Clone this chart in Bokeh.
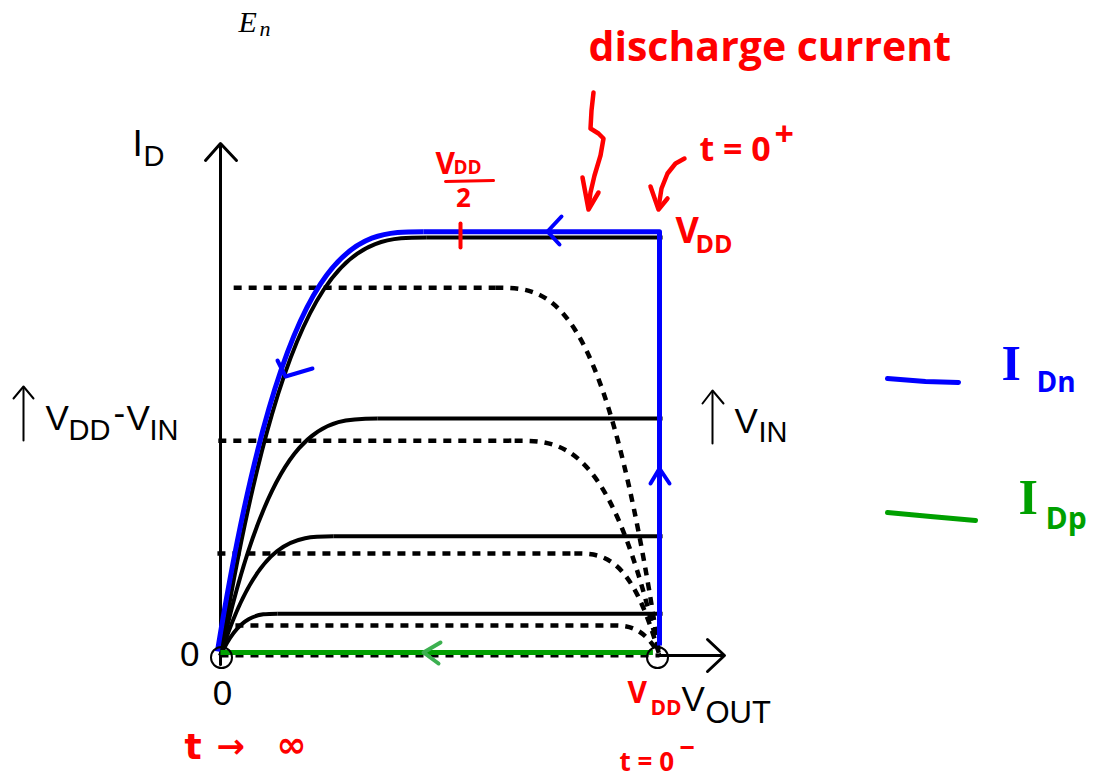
from bokeh.plotting import figure
from bokeh.models import Range1d
from bokeh.core.properties import value
from bokeh.embed import file_html
from bokeh.resources import INLINE

# ---------------------------------------------------------------------------
# Inverter discharge: NMOS (solid) and PMOS (dotted) output characteristics.
# Currents are normalised to the top NMOS curve, voltages to VDD.
# ---------------------------------------------------------------------------
VDD = 1.0
line_end = 1.007

idn_sat = [1.0, 0.567, 0.285, 0.100]         # NMOS saturation currents
idn_knee = [0.470, 0.358, 0.257, 0.130]      # NMOS V_DSAT

idp_sat = [0.880, 0.514, 0.244, 0.072]       # PMOS saturation currents
idp_knee = [0.374, 0.330, 0.194, 0.112]      # PMOS |V_DSAT| measured from VDD
idp_start = [0.030, -0.005, -0.007, 0.034]   # where each dotted curve begins

# discharge trajectory of I_Dn (t = 0- -> t = 0+ -> t -> inf)
traj_level = 1.014
traj_knee = 0.462
traj_x0 = -0.007
traj_bottom = 0.024
idp_traj = 0.007                              # I_Dp stays ~0 during discharge

# screen placement of the plot: origin and scale (pixels per unit)
W, H = 1109, 780
X0, XS = 220.0, 439.0
Y0, YS = 655.0, 418.0


def dx(px):
    return (px - X0) / XS


def dy(py):
    return (Y0 - py) / YS


p = figure(width=W, height=H, x_range=Range1d(dx(0), dx(W)), y_range=Range1d(dy(H), dy(0)),
           toolbar_location=None, output_backend="svg", min_border=0,
           x_axis_location=None, y_axis_location=None)
p.grid.visible = False
p.outline_line_color = None
p.background_fill_color = "white"
p.border_fill_color = "white"

BLACK = "black"
BLUE = "#0000ff"
RED = "#ff0000"
GREEN = "#00a000"
HAND = "Open Sans"
SYM = "DejaVu Sans"
SANS = "Liberation Sans"
SERIF = "Liberation Serif"


def chevron(tip, b1, b2, color, width):
    p.multi_line(xs=[[dx(b1[0]), dx(tip[0]), dx(b2[0])]],
                 ys=[[dy(b1[1]), dy(tip[1]), dy(b2[1])]],
                 line_color=color, line_width=width, line_cap="round", line_join="round")


def path(points, color, width):
    p.line([dx(a) for a, _ in points], [dy(b) for _, b in points],
           line_color=color, line_width=width, line_cap="round", line_join="round")


def label(txt, px, py, size, color=BLACK, font=SANS, align="left", style="normal"):
    # py is the wanted baseline; the text box is anchored a little above it
    base = py - 0.38 * size
    p.text(x=[dx(px)], y=[dy(base)], text=[txt], text_font=value(font),
           text_font_size=f"{size}px", text_color=color, text_align=align,
           text_baseline="alphabetic", text_font_style=style)


# ---- axes ----------------------------------------------------------------
path([(220, 664), (220, 144)], BLACK, 3)
chevron((220, 143), (205, 160), (236, 160), BLACK, 3)
path([(657, 655), (723, 655)], BLACK, 3)
chevron((724, 655), (707, 639), (707, 671), BLACK, 3)
p.line([0, VDD], [0, 0], line_color=BLACK, line_width=4, line_dash="8 7")

# ---- PMOS curves (dotted) -------------------------------------------------
for isat, b, x0 in zip(idp_sat, idp_knee, idp_start):
    p.line([x0, VDD - b], [isat, isat], line_color=BLACK, line_width=4.5, line_dash="8 7")
    p.bezier(x0=[VDD - b], y0=[isat], x1=[VDD], y1=[0.0],
             cx0=[VDD - 2 * b / 3], cy0=[isat], cx1=[VDD - b / 3], cy1=[isat],
             line_color=BLACK, line_width=4.5, line_dash="8 7")

# ---- NMOS curves (solid) --------------------------------------------------
for isat, a in zip(idn_sat, idn_knee):
    p.bezier(x0=[0.0], y0=[0.0], x1=[a], y1=[isat],
             cx0=[a / 3], cy0=[isat], cx1=[2 * a / 3], cy1=[isat],
             line_color=BLACK, line_width=4)
    p.line([a, line_end], [isat, isat], line_color=BLACK, line_width=4)

# ---- discharge trajectory of I_Dn (blue) ----------------------------------
p.line([VDD, VDD, traj_knee], [traj_bottom, traj_level, traj_level],
       line_color=BLUE, line_width=5, line_join="round")
p.bezier(x0=[traj_x0], y0=[0.01], x1=[traj_knee], y1=[traj_level],
         cx0=[traj_x0 + (traj_knee - traj_x0) / 3], cy0=[traj_level],
         cx1=[traj_x0 + 2 * (traj_knee - traj_x0) / 3], cy1=[traj_level],
         line_color=BLUE, line_width=5)
chevron((659, 468), (650, 483), (669, 483), BLUE, 4)
chevron((547, 231), (561, 216), (559, 244), BLUE, 4)
chevron((285, 376), (277, 360), (312, 368), BLUE, 4)

# ---- I_Dp stays at zero (green) ------------------------------------------
p.line([0.0, VDD - 0.015], [idp_traj, idp_traj], line_color=GREEN, line_width=5)
chevron((423, 652), (440, 642), (438, 663), "#3cb050", 4)

# ---- end points -----------------------------------------------------------
p.scatter(x=[dx(221), dx(657)], y=[dy(657), dy(657)], marker="circle", size=21,
          fill_color=None, line_color=BLACK, line_width=2)

# ---- black labels ---------------------------------------------------------
label("E", 238, 32, 30, font=SERIF, style="italic")
label("n", 259, 36, 22, font=SERIF, style="italic")

label("I", 132, 157, 37)
label("D", 143, 167, 29)

path([(23, 440), (23, 387)], BLACK, 2)
chevron((23, 386), (13, 398), (33, 398), BLACK, 2)
label("V", 45, 430, 35)
label("DD", 68, 441, 29)
label("-", 113, 426, 35)
label("V", 126, 430, 35)
label("IN", 149, 441, 29)

path([(712, 443), (712, 391)], BLACK, 2)
chevron((712, 390), (702, 403), (723, 403), BLACK, 2)
label("V", 734, 433, 35)
label("IN", 758, 443, 29)

label("0", 199, 667, 35, align="right")
label("0", 222, 706, 35, align="center")
label("V", 681, 711, 35)
label("OUT", 705, 724, 31)

# ---- red notes -----------------------------------------------------------
label("discharge current", 588, 60, 41, RED, HAND, style="bold")
path([(593, 92), (591, 110), (590, 128), (598, 133), (603, 138), (600, 155),
      (594, 175), (590, 192), (588, 207)], RED, 4.5)
chevron((588, 209), (582, 177), (598, 192), RED, 4.5)

label("t = 0", 699, 160, 34, RED, HAND, style="bold")
label("+", 774, 146, 34, RED, HAND, style="bold")
path([(684, 158), (675, 163), (667, 173), (661, 188), (658, 207)], RED, 4.5)
chevron((658, 209), (650, 186), (667, 198), RED, 4.5)

label("V", 675, 243, 36, RED, HAND, style="bold")
label("DD", 695, 252, 25, RED, HAND, style="bold")

label("V", 435, 173, 30, RED, HAND, style="bold")
label("DD", 453, 174, 19, RED, HAND, style="bold")
path([(445, 181), (493, 180)], RED, 3)
label("2", 463, 207, 26, RED, HAND, align="center", style="bold")
path([(460, 223), (460, 247)], RED, 4)

label("V", 627, 702, 30, RED, HAND, style="bold")
label("DD", 650, 714, 21, RED, HAND, style="bold")
label("t", 184, 760, 36, RED, SYM, style="bold")
label("\u2192", 216, 758, 34, RED, SYM, style="bold")
label("\u221e", 276, 758, 36, RED, SYM, style="bold")
label("t = 0", 619, 770, 26, RED, HAND, style="bold")
label("\u2212", 679, 757, 27, RED, HAND, style="bold")

# ---- legend ---------------------------------------------------------------
path([(887, 378), (925, 381), (958, 382)], BLUE, 5)
label("I", 1001, 381, 50, BLUE, SERIF, style="bold")
label("Dn", 1036, 391, 28, BLUE, HAND, style="bold")
path([(887, 512), (930, 516), (975, 520)], GREEN, 5)
label("I", 1018, 515, 50, GREEN, SERIF, style="bold")
label("Dp", 1045, 528, 30, GREEN, HAND, style="bold")

open("out.html", "w").write(file_html(p, INLINE))
